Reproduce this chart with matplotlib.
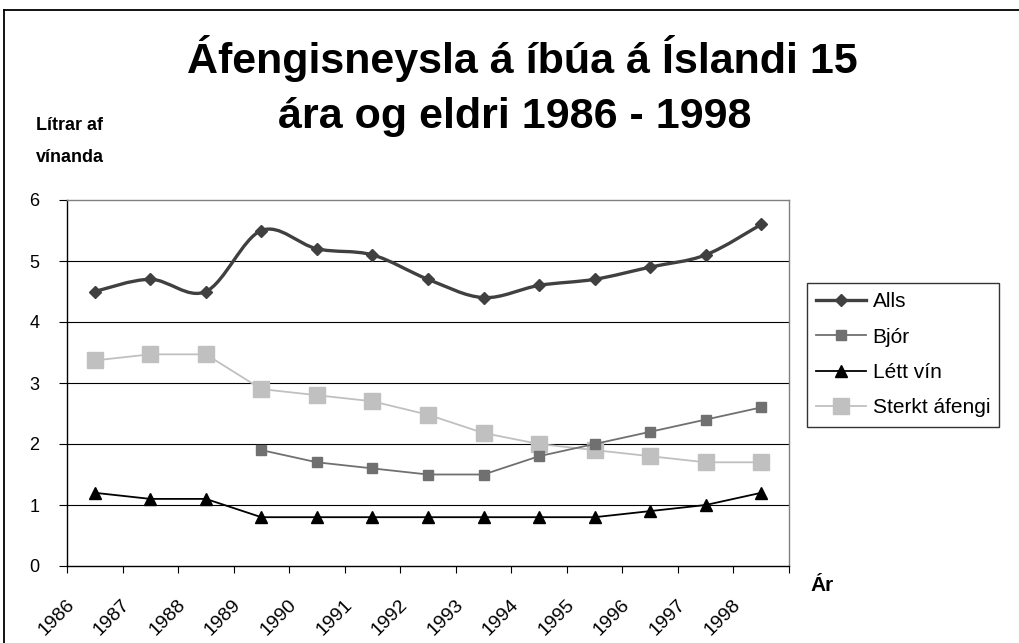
import numpy as np
import matplotlib
matplotlib.use("Agg")
import matplotlib.pyplot as plt
from matplotlib.path import Path
from matplotlib.patches import PathPatch
from matplotlib.lines import Line2D
import matplotlib.transforms as mtransforms

plt.rcParams['font.family'] = ['Liberation Sans', 'DejaVu Sans']

# Gögn (lítrar af vínanda á íbúa)
ar = ['1986', '1987', '1988', '1989', '1990', '1991', '1992',
      '1993', '1994', '1995', '1996', '1997', '1998']
alls = [4.5, 4.7, 4.5, 5.5, 5.2, 5.1, 4.7, 4.4, 4.6, 4.7, 4.9, 5.1, 5.6]
bjor = [np.nan, np.nan, np.nan, 1.9, 1.7, 1.6, 1.5, 1.5, 1.8, 2.0, 2.2, 2.4, 2.6]
lett_vin = [1.2, 1.1, 1.1, 0.8, 0.8, 0.8, 0.8, 0.8, 0.8, 0.8, 0.9, 1.0, 1.2]
sterkt = [3.37, 3.47, 3.47, 2.9, 2.8, 2.7, 2.48, 2.18, 2.0, 1.9, 1.8, 1.7, 1.7]
y_tick = [0, 1, 2, 3, 4, 5, 6]

W, H = 1020, 643
fig = plt.figure(figsize=(W / 100, H / 100), dpi=100)
ax = fig.add_axes([67 / W, 1 - 566 / H, (789 - 67) / W, (566 - 200) / H])

x = np.arange(len(ar))

# Alls - mjúk lína (Excel smoothing, Catmull-Rom bezier)
def smooth_path(xs, ys):
    px = np.concatenate([[xs[0]], xs, [xs[-1]]])
    py = np.concatenate([[ys[0]], ys, [ys[-1]]])
    verts = [(xs[0], ys[0])]
    codes = [Path.MOVETO]
    for i in range(1, len(px) - 2):
        c1 = (px[i] + (px[i + 1] - px[i - 1]) / 6, py[i] + (py[i + 1] - py[i - 1]) / 6)
        c2 = (px[i + 1] - (px[i + 2] - px[i]) / 6, py[i + 1] - (py[i + 2] - py[i]) / 6)
        verts += [c1, c2, (px[i + 1], py[i + 1])]
        codes += [Path.CURVE4] * 3
    return Path(verts, codes)

c_alls = '#404040'
ax.add_patch(PathPatch(smooth_path(x.astype(float), np.array(alls)), facecolor='none',
                       edgecolor=c_alls, lw=2.4, zorder=4))
ax.plot(x, alls, linestyle='none', marker='D', ms=6, color=c_alls, zorder=5)

ax.plot(x, bjor, color='#707070', lw=1.3, marker='s', ms=6.5, zorder=4)
ax.plot(x, lett_vin, color='black', lw=1.3, marker='^', ms=8, zorder=4)
ax.plot(x, sterkt, color='#c0c0c0', lw=1.3, marker='s', ms=11, zorder=3)

ax.set_xlim(-0.5, len(ar) - 0.5)
ax.set_ylim(0, 6)
ax.set_yticks(y_tick)
ax.set_yticklabels([str(v) for v in y_tick], fontsize=13)
ax.tick_params(axis='y', length=6, width=0.8, pad=14)

# lóðrétt strik á mörkum flokka, ártöl hallandi
ax.set_xticks(np.arange(len(ar) + 1) - 0.5)
ax.set_xticklabels([])
ax.tick_params(axis='x', length=5, width=0.8, direction='out')
lbl_tr = mtransforms.blended_transform_factory(ax.transData, ax.transAxes) + \
    mtransforms.ScaledTranslation(-29 / 100, -30 / 100, fig.dpi_scale_trans)
for i, a in enumerate(ar):
    ax.text(i, 0, a, transform=lbl_tr, rotation=45, rotation_mode='anchor',
            ha='right', va='top', fontsize=14)

for v in y_tick[1:-1]:
    ax.axhline(v, color='black', lw=0.8, zorder=1)
ax.spines['top'].set_color('#808080')
ax.spines['right'].set_color('#808080')
for s in ax.spines.values():
    s.set_linewidth(1.0)

# titill og ásaheiti
fig.text(522 / W, 1 - 73 / H, 'Áfengisneysla á íbúa á Íslandi 15', ha='center',
         va='baseline', fontsize=31, fontweight='bold')
fig.text(515 / W, 1 - 128 / H, 'ára og eldri 1986 - 1998', ha='center',
         va='baseline', fontsize=31, fontweight='bold')
fig.text(36 / W, 1 - 130 / H, 'Lítrar af', ha='left', va='baseline',
         fontsize=13, fontweight='bold')
fig.text(36 / W, 1 - 162 / H, 'vínanda', ha='left', va='baseline',
         fontsize=13, fontweight='bold')
fig.text(810 / W, 1 - 591 / H, 'Ár', ha='left', va='baseline',
         fontsize=15, fontweight='bold')

# skýringar
handles = [
    Line2D([], [], color=c_alls, lw=2.4, marker='D', ms=6),
    Line2D([], [], color='#707070', lw=1.3, marker='s', ms=6.5),
    Line2D([], [], color='black', lw=1.3, marker='^', ms=8),
    Line2D([], [], color='#c0c0c0', lw=1.3, marker='s', ms=11),
]
leg = fig.legend(handles, ['Alls', 'Bjór', 'Létt vín', 'Sterkt áfengi'],
                 loc='upper left', bbox_to_anchor=(807 / W, 1 - 283 / H),
                 fontsize=15, frameon=True, fancybox=False, edgecolor='black',
                 handlelength=2.4, handletextpad=0.3, labelspacing=0.78,
                 borderpad=0.45, borderaxespad=0)
leg.get_frame().set_linewidth(1.0)

# rammi um myndina
fig.add_artist(Line2D([4 / W, 4 / W], [0, 1 - 10 / H], color='black', lw=1.3,
                      transform=fig.transFigure))
fig.add_artist(Line2D([4 / W, 1], [1 - 10 / H, 1 - 10 / H], color='black', lw=1.3,
                      transform=fig.transFigure))

fig.savefig('out.png', dpi=100)
